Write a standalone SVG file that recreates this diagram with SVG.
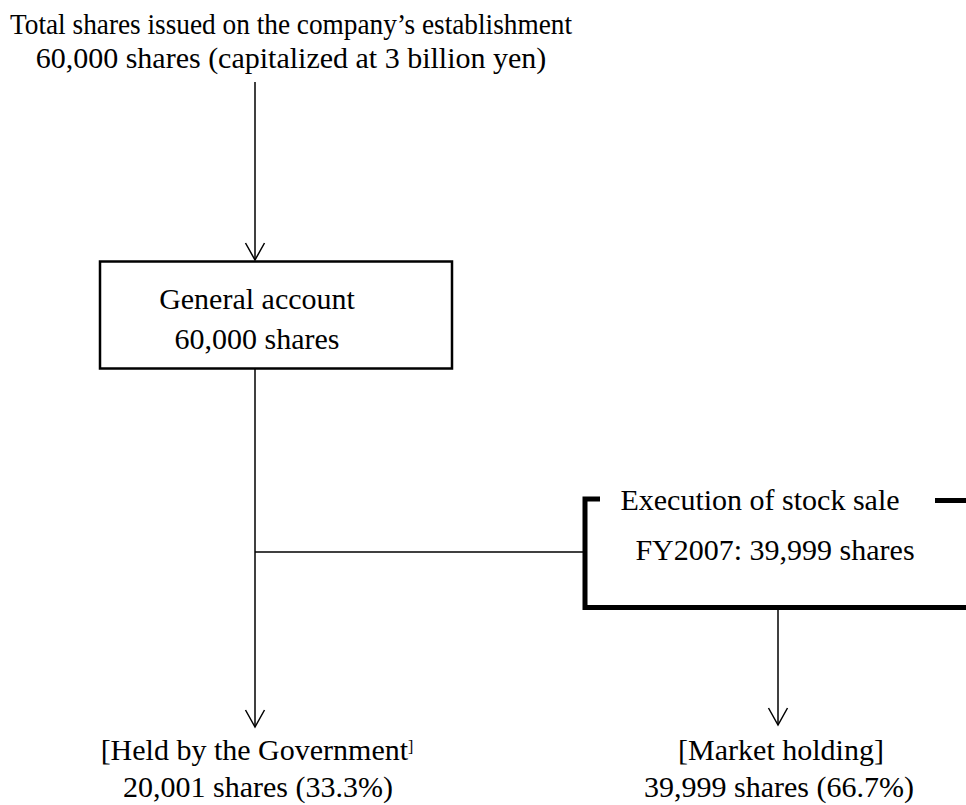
<svg xmlns="http://www.w3.org/2000/svg" width="966" height="805" viewBox="0 0 966 805">
<defs>
<style>
text{font-family:"Liberation Serif","Times New Roman",serif;font-size:30px;fill:#000;text-anchor:middle}
.ln{stroke:#000;stroke-width:1.5;fill:none}
.arr{stroke:#000;stroke-width:1.5;fill:none}
.thick{stroke:#000;stroke-width:5;fill:none}
</style>
<marker id="ah" viewBox="-20 -12 22 24" markerWidth="22" markerHeight="24" refX="0" refY="0" orient="auto" markerUnits="userSpaceOnUse" overflow="visible">
<path d="M-17,-9.5 L0,0 L-17,9.5" fill="none" stroke="#000" stroke-width="1.5"/>
</marker>
</defs>
<rect width="966" height="805" fill="#fff"/>
<g id="top-label">
<text x="291" y="34" font-size="27" textLength="562" lengthAdjust="spacingAndGlyphs">Total shares issued on the company’s establishment</text>
<text x="291" y="68">60,000 shares (capitalized at 3 billion yen)</text>
</g>
<g id="general-account">
<rect x="100" y="261.5" width="352" height="107" fill="#fff" stroke="#000" stroke-width="2.5"/>
<text x="257" y="309">General account</text>
<text x="257" y="349">60,000 shares</text>
</g>
<g id="stock-sale">
<path class="thick" d="M600,499 H585 V607.5 H966"/>
<path class="thick" d="M935,500.5 H966"/>
<text x="760" y="510">Execution of stock sale</text>
<text x="775" y="560">FY2007: 39,999 shares</text>
</g>
<g id="government">
<text x="257" y="760">[Held by the Government<tspan font-size="16" dy="-8">]</tspan></text>
<text x="258" y="797">20,001 shares (33.3%)</text>
</g>
<g id="market">
<text x="781" y="760">[Market holding]</text>
<text x="779" y="797">39,999 shares (66.7%)</text>
</g>
<g id="connectors">
<line class="arr" x1="255" y1="82" x2="255" y2="260" marker-end="url(#ah)"/>
<line class="arr" x1="255" y1="369" x2="255" y2="727" marker-end="url(#ah)"/>
<line class="ln" x1="255" y1="552" x2="583" y2="552"/>
<line class="arr" x1="778" y1="610" x2="778" y2="725" marker-end="url(#ah)"/>
</g>
</svg>
